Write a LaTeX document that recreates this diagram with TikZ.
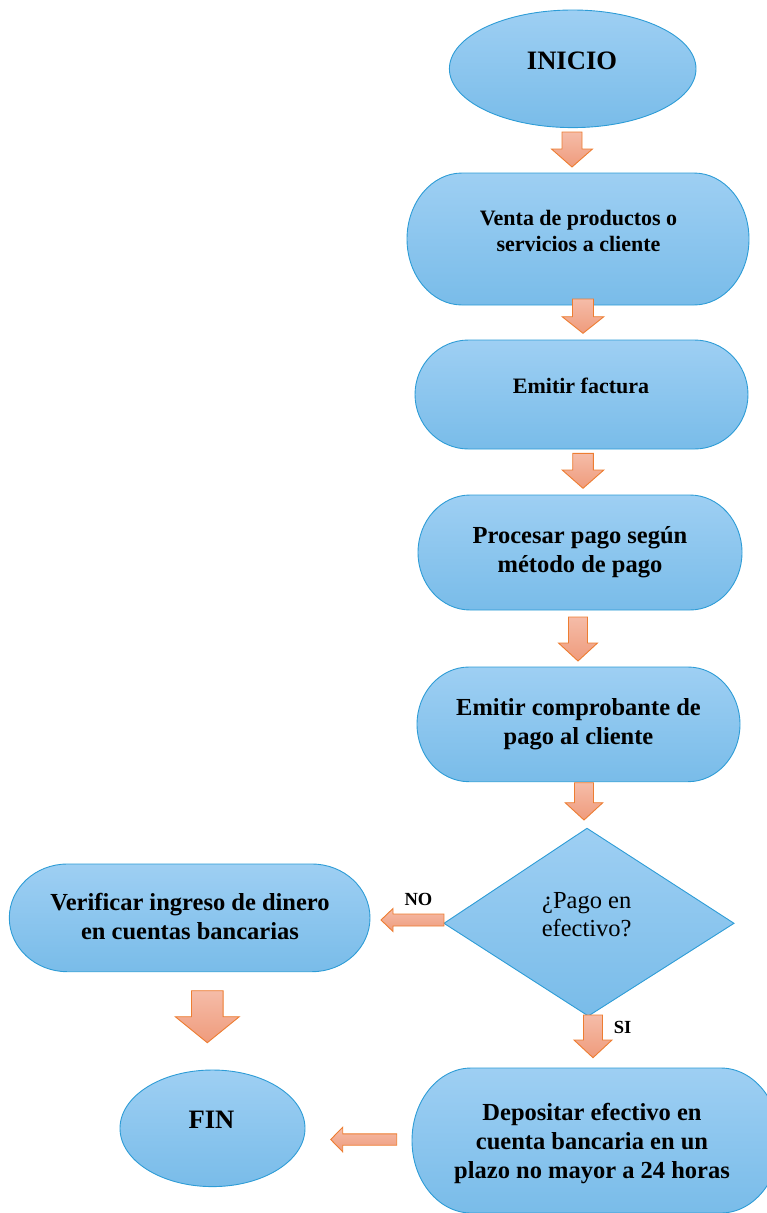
\documentclass[tikz,border=0pt]{standalone}
\usepackage{fontspec}
\setmainfont{Liberation Serif}
\usetikzlibrary{shapes.geometric}
\definecolor{boxtop}{RGB}{158,207,243}
\definecolor{boxbot}{RGB}{121,188,233}
\definecolor{boxline}{RGB}{45,156,214}
\definecolor{arrtop}{RGB}{245,188,168}
\definecolor{arrbot}{RGB}{239,155,124}
\definecolor{arrline}{RGB}{237,125,49}
\tikzset{
  boxshape/.style={draw=boxline, line width=0.9pt, top color=boxtop, bottom color=boxbot},
  blockarrow/.style={draw=arrline, line width=0.9pt, top color=arrtop, bottom color=arrbot, line join=miter},
  lbl/.style={align=center, anchor=base, inner sep=0pt},
  fa/.style={font=\fontsize{22}{26}\selectfont\bfseries},
  fb/.style={font=\fontsize{24.5}{29}\selectfont\bfseries},
  fc/.style={font=\fontsize{26.6}{30}\selectfont\bfseries},
  fd/.style={font=\fontsize{24.5}{28.7}\selectfont},
  fe/.style={font=\fontsize{18.5}{22}\selectfont\bfseries},
}
% terminator box: name, x1, ytop, x2, ybot (pixel units, y down)
\newcommand\termbox[5]{%
  \pgfmathsetmacro\tbw{#4-#2}%
  \pgfmathsetmacro\tbrx{0.161*\tbw}%
  \pgfmathsetmacro\tbry{(#5-#3)/2}%
  \draw[boxshape] ({#2+\tbrx},{-#3}) -- ({#4-\tbrx},{-#3})
    arc[start angle=90,end angle=-90,x radius=\tbrx,y radius=\tbry]
    -- ({#2+\tbrx},{-#5})
    arc[start angle=270,end angle=90,x radius=\tbrx,y radius=\tbry] -- cycle;
  \coordinate (#1) at ({(#2+#4)/2},{-(#3+#5)/2});
}
% down block arrow: xc, ytop, yhead, ytip, shaft half, head half
\newcommand\downblock[6]{%
  \draw[blockarrow] ({#1-#5},{-#2}) -- ({#1+#5},{-#2}) -- ({#1+#5},{-#3}) -- ({#1+#6},{-#3})
    -- ({#1},{-#4}) -- ({#1-#6},{-#3}) -- ({#1-#5},{-#3}) -- cycle;
}
% left block arrow: yc, xright, xhead, xtip, shaft half, head half
\newcommand\leftblock[6]{%
  \draw[blockarrow] ({#2},{-(#1-#5)}) -- ({#2},{-(#1+#5)}) -- ({#3},{-(#1+#5)}) -- ({#3},{-(#1+#6)})
    -- ({#4},{-#1}) -- ({#3},{-(#1-#6)}) -- ({#3},{-(#1-#5)}) -- cycle;
}
\begin{document}
\begin{tikzpicture}[x=1pt,y=1pt]
\useasboundingbox (0,0) rectangle (767,-1213);

% start ellipse
\node[ellipse, boxshape, minimum width=246.6pt, minimum height=117.6pt, inner sep=0pt] (inicio) at (572.7,-68.8) {};
\node[lbl, fc] (tinicio) at (572,-69.3) {INICIO};

% boxes
\termbox{venta}{407}{173}{749}{305}
\termbox{factura}{415}{340}{748}{449}
\termbox{procesar}{418}{495}{742}{610}
\termbox{comprob}{417}{667}{740}{781.7}
\termbox{verificar}{9.3}{864}{370}{971.7}
\termbox{depositar}{412}{1068}{780}{1213}

% decision
\draw[boxshape] (587,-828.3) -- (734,-923.3) -- (588.3,-1016) -- (444,-923.3) -- cycle;
\coordinate (pago) at (589,-922);

% end ellipse
\node[ellipse, boxshape, minimum width=185pt, minimum height=116.6pt, inner sep=0pt] (fin) at (212.5,-1128.3) {};
\node[lbl, fc] (tfin) at (211.5,-1128.3) {FIN};

% texts (multi-line nodes: base anchor = last line baseline)
\node[lbl, fa] (tventa) at (578.5,-251) {Venta de productos o\\servicios a cliente};
\node[lbl, fa] (tfactura) at (581,-393) {Emitir factura};
\node[lbl, fb] (tprocesar) at (580,-572) {Procesar pago según\\método de pago};
\node[lbl, fb] (tcomprob) at (578.5,-744) {Emitir comprobante de\\pago al cliente};
\node[lbl, fd] (tpago) at (586.7,-936.7) {¿Pago en\\efectivo?};
\node[lbl, fb] (tverificar) at (190,-939.3) {Verificar ingreso de dinero\\en cuentas bancarias};
\node[lbl, fb] (tdepositar) at (592,-1178.3) {Depositar efectivo en\\cuenta bancaria en un\\plazo no mayor a 24 horas};
\node[lbl, fe] (tno) at (418.5,-905) {NO};
\node[lbl, fe] (tsi) at (622.5,-1033) {SI};

% block arrows
\downblock{572}{132}{149}{167}{10}{20.5}
\downblock{583}{299}{316.7}{333.3}{10.5}{20.8}
\downblock{583}{453.3}{470}{488.3}{10.3}{20.8}
\downblock{578}{617}{643}{661}{9.5}{19.5}
\downblock{584}{782.7}{802.7}{820}{9.5}{18.8}
\downblock{593}{1015}{1040}{1057.7}{9.5}{19}
\downblock{207.3}{990.7}{1016.7}{1042.7}{15.8}{32}
\leftblock{920}{444}{393}{381}{6}{11.5}
\leftblock{1139.5}{396.7}{342.7}{330.7}{5.7}{12.3}
\end{tikzpicture}
\end{document}
